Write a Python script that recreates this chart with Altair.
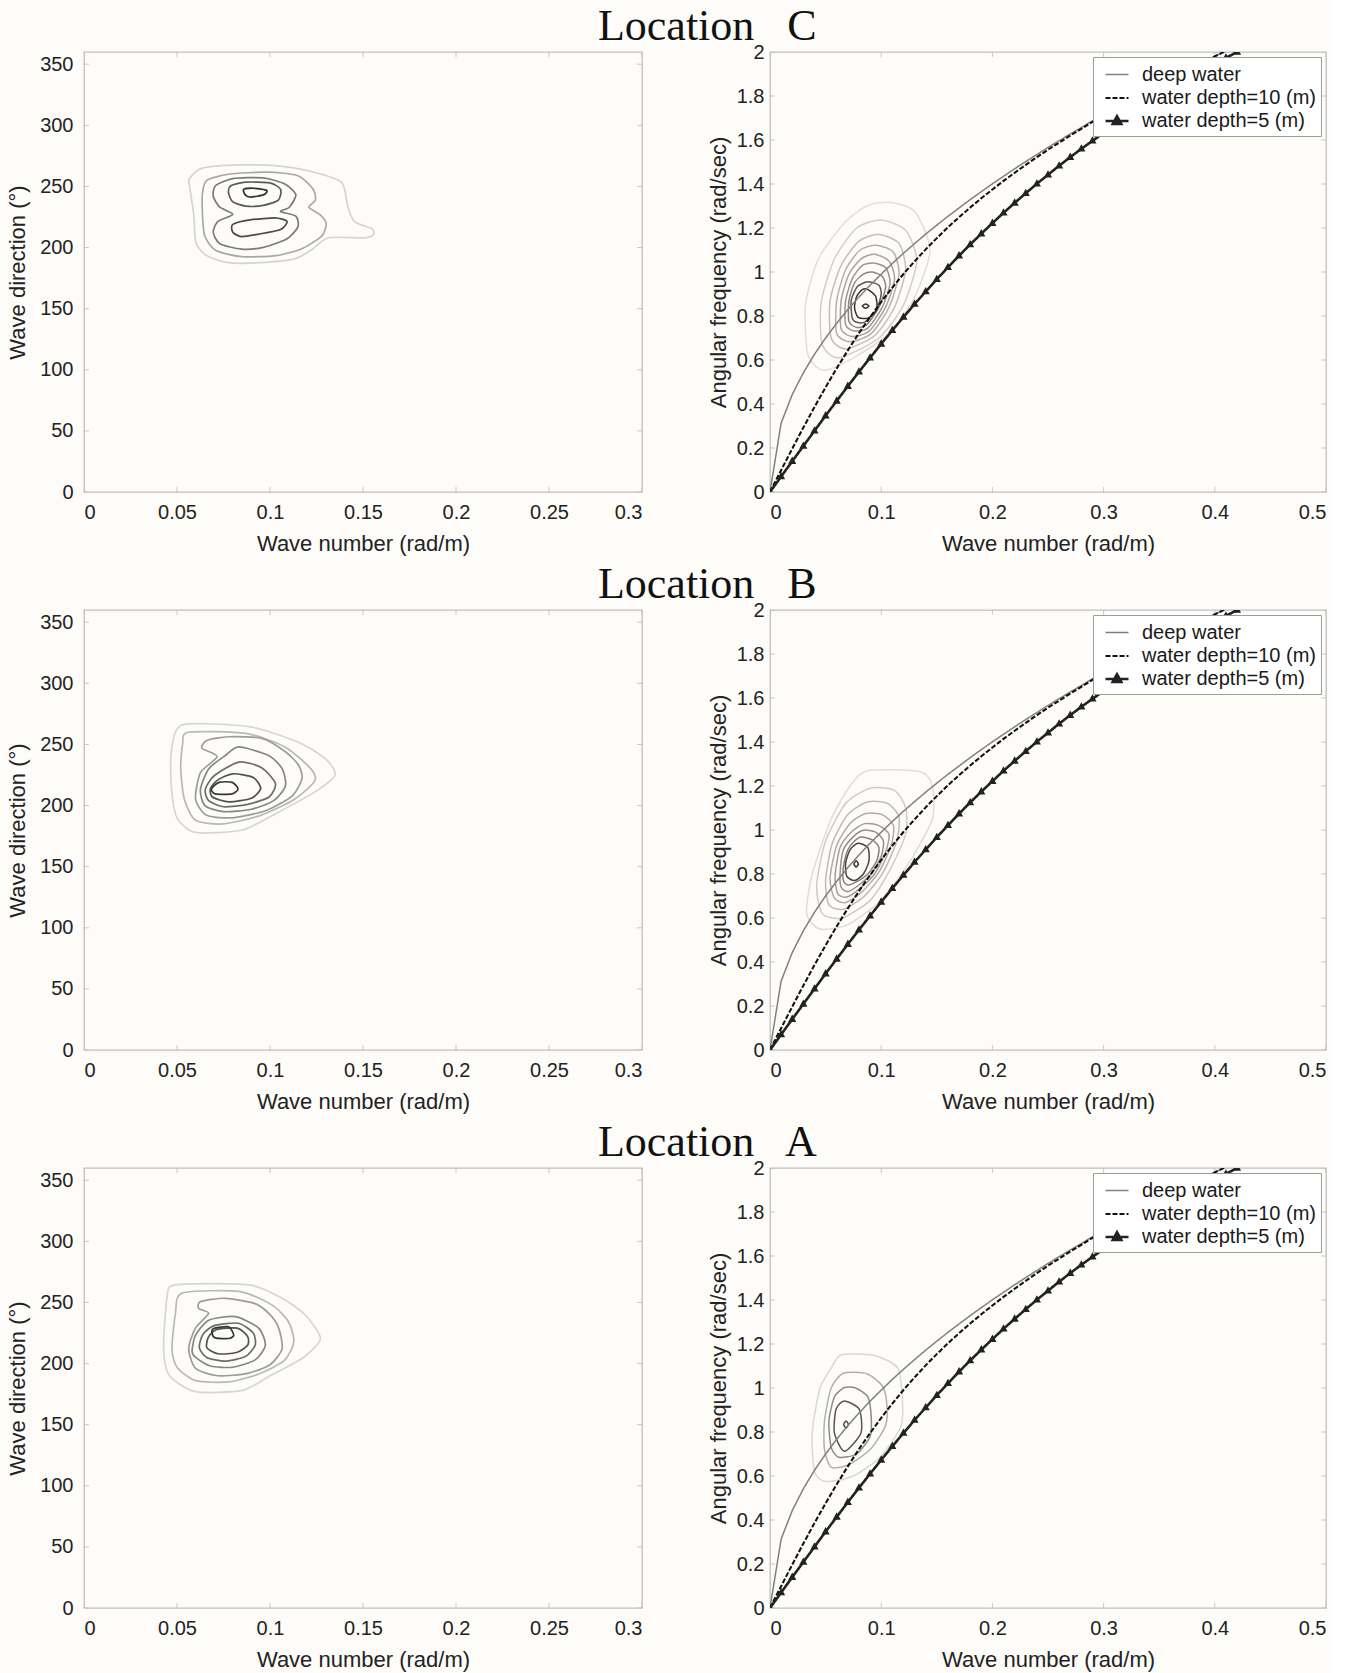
import altair as alt
import pandas as pd

# ---------------- data ----------------
K = [0, 0.01, 0.02, 0.03, 0.04, 0.05, 0.06, 0.07, 0.08, 0.09, 0.10,
     0.11, 0.12, 0.13, 0.14, 0.15, 0.16, 0.17, 0.18, 0.19, 0.20,
     0.21, 0.22, 0.23, 0.24, 0.25, 0.26, 0.27, 0.28, 0.29, 0.30,
     0.31, 0.32, 0.33, 0.34, 0.35, 0.36, 0.37, 0.38, 0.39, 0.40, 0.41, 0.42]
DEEP = [0, 0.313, 0.443, 0.542, 0.626, 0.700, 0.767, 0.829, 0.886, 0.940, 0.990,
        1.039, 1.085, 1.129, 1.172, 1.213, 1.253, 1.291, 1.329, 1.365, 1.401,
        1.435, 1.469, 1.502, 1.534, 1.566, 1.597, 1.627, 1.657, 1.687, 1.715,
        1.744, 1.772, 1.799, 1.826, 1.853, 1.879, 1.905, 1.931, 1.956, 1.981, 2.005, 2.030]
D10 = [0, 0.099, 0.197, 0.293, 0.386, 0.476, 0.562, 0.644, 0.722, 0.795, 0.864,
       0.929, 0.991, 1.048, 1.103, 1.154, 1.203, 1.249, 1.293, 1.335, 1.375,
       1.414, 1.451, 1.487, 1.522, 1.556, 1.588, 1.620, 1.651, 1.682, 1.711,
       1.740, 1.769, 1.797, 1.824, 1.851, 1.878, 1.904, 1.930, 1.955, 1.980, 2.005, 2.029]
D5 = [0, 0.070, 0.140, 0.209, 0.278, 0.347, 0.414, 0.481, 0.546, 0.610, 0.673,
      0.735, 0.795, 0.854, 0.911, 0.967, 1.021, 1.074, 1.125, 1.174, 1.222,
      1.269, 1.314, 1.358, 1.401, 1.442, 1.483, 1.522, 1.560, 1.596, 1.632,
      1.667, 1.701, 1.734, 1.766, 1.798, 1.829, 1.859, 1.888, 1.917, 1.945, 1.973, 2.000]
SERIES = ["deep water", "water depth=10 (m)", "water depth=5 (m)"]

TITLES = ["Location\u00a0\u00a0 C", "Location\u00a0\u00a0 B", "Location\u00a0\u00a0 A"]
LEFT_X_TICKS = [0, 0.05, 0.1, 0.15, 0.2, 0.25, 0.3]
LEFT_Y_TICKS = [0, 50, 100, 150, 200, 250, 300, 350]
RIGHT_X_TICKS = [0, 0.1, 0.2, 0.3, 0.4, 0.5]
RIGHT_Y_TICKS = [0, 0.2, 0.4, 0.6, 0.8, 1, 1.2, 1.4, 1.6, 1.8, 2]

# contour lines (wave number, wave direction) — outermost first
C_LEFT = [
    [(0.0567, 256.5), (0.0637, 265), (0.0847, 267.6), (0.1057, 266.7), (0.122, 262.3), (0.1384, 253.5),
     (0.1419, 233), (0.1454, 221.3), (0.1547, 215.4), (0.1559, 211), (0.1512, 208), (0.1314, 208),
     (0.122, 197.8), (0.1127, 190.5), (0.094, 187.6), (0.0777, 187.6), (0.066, 193.4), (0.0602, 203.7),
     (0.059, 227), (0.0567, 250.6)],
    [(0.0637, 244.7), (0.066, 255), (0.0777, 260), (0.0987, 261.7), (0.115, 258.8), (0.1232, 247.7),
     (0.1244, 238.9), (0.1209, 233), (0.1267, 227.1), (0.1302, 219.8), (0.1279, 209.6), (0.1174, 199.3),
     (0.1034, 193.4), (0.0847, 192.6), (0.0707, 197.8), (0.0649, 209.6), (0.0637, 227.1)],
    [(0.0695, 241.8), (0.0707, 250.6), (0.08, 256.4), (0.0964, 257), (0.108, 252), (0.1139, 243.3),
     (0.1104, 233), (0.1057, 229.5), (0.1139, 225.7), (0.115, 216.9), (0.1092, 207.2), (0.0964, 200.2),
     (0.0847, 198.7), (0.073, 203.1), (0.0695, 212.5), (0.0719, 221.3), (0.08, 227.1), (0.073, 233)],
    [(0.0777, 244.7), (0.0789, 250.6), (0.087, 253.5), (0.0999, 252.9), (0.1057, 247.7), (0.1045, 238.9),
     (0.0964, 234.5), (0.087, 233.9), (0.08, 237.4)],
    [(0.0859, 247.7), (0.0917, 248.5), (0.0982, 246.8), (0.0968, 243.3), (0.0894, 241.2), (0.0866, 243.3)],
    [(0.08, 212.5), (0.08, 219), (0.0894, 222.7), (0.1034, 224.2), (0.1092, 221.3), (0.1057, 214.8),
     (0.094, 211), (0.0847, 209)],
]
B_LEFT = [
    [(0.053, 266), (0.089, 264.5), (0.115, 252), (0.13, 238), (0.135, 225), (0.125, 212), (0.105, 195),
     (0.085, 180), (0.06, 178), (0.05, 190), (0.047, 215), (0.047, 245)],
    [(0.056, 260), (0.087, 259), (0.108, 248), (0.122, 230), (0.124, 220), (0.113, 205), (0.095, 192),
     (0.075, 185), (0.06, 188), (0.054, 205), (0.052, 230), (0.053, 250)],
    [(0.0663, 253.5), (0.0778, 256.3), (0.0957, 255), (0.1083, 244), (0.1154, 233), (0.1172, 222),
     (0.112, 208), (0.098, 196), (0.08, 190), (0.066, 192), (0.06, 205), (0.0626, 227), (0.0716, 240),
     (0.0634, 247)],
    [(0.0832, 248), (0.0993, 241), (0.1066, 230), (0.1083, 216), (0.102, 204), (0.09, 197), (0.075, 195),
     (0.065, 200), (0.0626, 213), (0.067, 230), (0.076, 241)],
    [(0.0832, 235.6), (0.0955, 231), (0.1029, 218), (0.0995, 207), (0.088, 201), (0.075, 199), (0.067, 204),
     (0.0652, 213), (0.0697, 224)],
    [(0.08, 226), (0.091, 223), (0.095, 214), (0.09, 206), (0.078, 203), (0.069, 207), (0.068, 214), (0.072, 221)],
    [(0.0726, 219), (0.0797, 219), (0.0828, 213.6), (0.0797, 209.5), (0.0706, 209.5), (0.0685, 213.6)],
]
A_LEFT = [
    [(0.0491, 264.4), (0.0886, 264.4), (0.1065, 253.4), (0.119, 239.7), (0.1271, 220.5), (0.118, 205),
     (0.10, 190), (0.085, 178), (0.06, 177), (0.046, 190), (0.0428, 212), (0.0446, 253.4)],
    [(0.0527, 257.6), (0.0832, 259), (0.101, 248), (0.110, 234), (0.1128, 218), (0.108, 203), (0.095, 192),
     (0.078, 185), (0.06, 186), (0.05, 197), (0.0473, 212), (0.0491, 240)],
    [(0.0626, 250.7), (0.076, 253.4), (0.092, 249), (0.1, 240), (0.1047, 229), (0.1065, 212), (0.1, 199),
     (0.088, 192), (0.072, 190), (0.06, 196), (0.0563, 212), (0.0599, 229), (0.067, 241), (0.0617, 245)],
    [(0.0671, 235.5), (0.0814, 238.4), (0.0939, 229), (0.0975, 215), (0.092, 203), (0.08, 197), (0.068, 198),
     (0.06, 205), (0.0581, 210), (0.0599, 223)],
    [(0.07, 231), (0.083, 233), (0.091, 225), (0.092, 215), (0.087, 206), (0.076, 202), (0.066, 205),
     (0.062, 213), (0.064, 224)],
    [(0.0715, 228), (0.0825, 229), (0.088, 222), (0.088, 215), (0.082, 209), (0.072, 208), (0.066, 213), (0.067, 222)],
    [(0.0697, 228.7), (0.0778, 230), (0.0805, 223.2), (0.0778, 220.5), (0.0706, 221), (0.0688, 225)],
]

# contour lines (wave number, angular frequency) — outermost first
C_RIGHT = [
    [(0.107, 1.317), (0.130, 1.276), (0.144, 1.10), (0.130, 0.886), (0.107, 0.72), (0.075, 0.61),
     (0.048, 0.553), (0.034, 0.626), (0.032, 0.854), (0.044, 1.065), (0.068, 1.228), (0.087, 1.30)],
    [(0.100, 1.236), (0.122, 1.19), (0.132, 1.05), (0.120, 0.85), (0.098, 0.70), (0.062, 0.61),
     (0.047, 0.67), (0.046, 0.86), (0.058, 1.06), (0.078, 1.20)],
    [(0.098, 1.171), (0.116, 1.13), (0.122, 1.01), (0.112, 0.84), (0.094, 0.71), (0.068, 0.65),
     (0.055, 0.70), (0.054, 0.87), (0.064, 1.03), (0.080, 1.14)],
    [(0.096, 1.122), (0.111, 1.09), (0.116, 0.99), (0.107, 0.84), (0.091, 0.72), (0.072, 0.683),
     (0.060, 0.72), (0.060, 0.87), (0.068, 1.01), (0.081, 1.10)],
    [(0.094, 1.081), (0.107, 1.05), (0.112, 0.97), (0.104, 0.84), (0.089, 0.73), (0.074, 0.707),
     (0.064, 0.74), (0.064, 0.87), (0.071, 0.99), (0.082, 1.06)],
    [(0.093, 1.041), (0.104, 1.02), (0.108, 0.95), (0.101, 0.84), (0.088, 0.745), (0.076, 0.732),
     (0.068, 0.76), (0.068, 0.87), (0.074, 0.97), (0.083, 1.03)],
    [(0.092, 1.0), (0.101, 0.98), (0.104, 0.93), (0.098, 0.84), (0.087, 0.76), (0.078, 0.748),
     (0.071, 0.775), (0.071, 0.87), (0.076, 0.95), (0.084, 0.99)],
    [(0.090, 0.955), (0.098, 0.94), (0.100, 0.90), (0.096, 0.83), (0.086, 0.775), (0.079, 0.77),
     (0.074, 0.79), (0.073, 0.87), (0.078, 0.93), (0.084, 0.95)],
    [(0.088, 0.92), (0.095, 0.89), (0.096, 0.83), (0.088, 0.79), (0.079, 0.795), (0.076, 0.84),
     (0.078, 0.89), (0.083, 0.92)],
    [(0.086, 0.855), (0.089, 0.845), (0.086, 0.835), (0.083, 0.845)],
]
B_RIGHT = [
    [(0.088, 1.27), (0.135, 1.265), (0.146, 1.2), (0.146, 1.05), (0.125, 0.85), (0.10, 0.68), (0.07, 0.57),
     (0.045, 0.55), (0.033, 0.62), (0.038, 0.80), (0.055, 1.05), (0.072, 1.2)],
    [(0.09, 1.19), (0.112, 1.18), (0.122, 1.10), (0.122, 0.98), (0.108, 0.82), (0.09, 0.68), (0.065, 0.60),
     (0.047, 0.62), (0.042, 0.75), (0.05, 0.95), (0.068, 1.12)],
    [(0.088, 1.128), (0.106, 1.12), (0.116, 1.06), (0.114, 0.95), (0.102, 0.81), (0.085, 0.70), (0.066, 0.64),
     (0.053, 0.66), (0.05, 0.77), (0.056, 0.94), (0.07, 1.07)],
    [(0.086, 1.075), (0.101, 1.07), (0.111, 1.02), (0.109, 0.93), (0.098, 0.81), (0.083, 0.72), (0.068, 0.67),
     (0.058, 0.69), (0.054, 0.78), (0.06, 0.93), (0.072, 1.03)],
    [(0.085, 1.029), (0.098, 1.02), (0.107, 0.98), (0.104, 0.90), (0.094, 0.80), (0.081, 0.735),
     (0.069, 0.695), (0.061, 0.71), (0.0585, 0.79), (0.063, 0.92), (0.073, 0.99)],
    [(0.084, 0.999), (0.095, 0.99), (0.102, 0.95), (0.1, 0.88), (0.091, 0.80), (0.08, 0.75), (0.07, 0.72),
     (0.064, 0.74), (0.063, 0.80), (0.066, 0.91), (0.075, 0.97)],
    [(0.082, 0.968), (0.092, 0.955), (0.098, 0.92), (0.096, 0.86), (0.088, 0.80), (0.078, 0.765),
     (0.07, 0.75), (0.066, 0.77), (0.066, 0.83), (0.07, 0.91), (0.076, 0.95)],
    [(0.079, 0.94), (0.088, 0.92), (0.089, 0.86), (0.084, 0.80), (0.076, 0.77), (0.069, 0.79),
     (0.068, 0.85), (0.072, 0.91)],
    [(0.0775, 0.86), (0.0795, 0.846), (0.0775, 0.832), (0.0755, 0.846)],
]
A_RIGHT = [
    [(0.064, 1.15), (0.094, 1.148), (0.115, 1.09), (0.119, 0.95), (0.118, 0.83), (0.10, 0.69), (0.075, 0.60),
     (0.05, 0.575), (0.040, 0.62), (0.038, 0.80), (0.045, 1.0), (0.055, 1.09)],
    [(0.066, 1.067), (0.087, 1.065), (0.101, 1.009), (0.105, 0.93), (0.104, 0.83), (0.09, 0.72), (0.07, 0.65),
     (0.055, 0.64), (0.049, 0.72), (0.049, 0.85), (0.055, 1.0)],
    [(0.067, 1.002), (0.077, 1.0), (0.088, 0.96), (0.091, 0.87), (0.09, 0.78), (0.078, 0.70), (0.062, 0.685),
     (0.055, 0.73), (0.053, 0.85), (0.058, 0.96)],
    [(0.0669, 0.941), (0.0803, 0.903), (0.0818, 0.796), (0.0669, 0.712), (0.0579, 0.796), (0.0594, 0.903)],
    [(0.0684, 0.85), (0.0705, 0.834), (0.0684, 0.818), (0.0663, 0.834)],
]

# ---------------- styling ----------------
LEFT_COLORS_6 = ["#d4d4d4", "#a8a8a8", "#7a7a7a", "#5a5a5a", "#333333", "#4a4a4a"]
LEFT_COLORS_7 = ["#d6d6d6", "#b8b8b8", "#9c9c9c", "#868686", "#6c6c6c", "#525252", "#363636"]
RIGHT_COLORS_C = ["#e2dede", "#d2cdcd", "#c3bebe", "#b5b0b0", "#a8a3a3", "#9a9595", "#8a8585",
                  "#5a5656", "#333333", "#333333"]
RIGHT_COLORS_B = ["#e0dcdc", "#cfcaca", "#bfbaba", "#b0abab", "#a29d9d", "#948f8f", "#858080",
                  "#444444", "#333333"]
RIGHT_COLORS_A = ["#d8d8d8", "#b0b0b0", "#8a8a8a", "#555555", "#444444"]
SERIES_COLORS = ["#808080", "#111111", "#222222"]
TICK_COLOR = "#b4b4b4"

FONT = "Liberation Sans"
LEFT_W, RIGHT_W, PLOT_H = 558, 556, 440
TRI_PATH = "M-1,0L1,0M0,-0.42L0.37,0.25L-0.37,0.25Z"
INDEP = dict(color="independent", strokeDash="independent", shape="independent",
             stroke="independent", strokeWidth="independent")


def contour_frame(contours):
    rows = []
    for lev, pts in enumerate(contours):
        for i, (x, y) in enumerate(pts):
            rows.append({"level": lev, "i": i, "x": x, "y": y})
    return pd.DataFrame(rows)


def inner_ticks(xdef, ydef, xticks, yticks, width):
    """MATLAB-style short ticks pointing into the plot frame on all four sides."""
    xdf = pd.DataFrame({"x": xticks})
    ydf = pd.DataFrame({"y": yticks})
    layers = []
    for pos in (PLOT_H, 0):
        layers.append(alt.Chart(xdf).mark_tick(orient="vertical", size=10, thickness=1,
                                               color=TICK_COLOR, clip=True)
                      .encode(x=xdef(), y=alt.value(pos)))
    for pos in (0, width):
        layers.append(alt.Chart(ydf).mark_tick(orient="horizontal", size=10, thickness=1,
                                               color=TICK_COLOR, clip=True)
                      .encode(y=ydef(), x=alt.value(pos)))
    return layers


def lx():
    return alt.X("x:Q", scale=alt.Scale(domain=[0, 0.3], nice=False, zero=False),
                 axis=alt.Axis(values=LEFT_X_TICKS, format="~g", title="Wave number (rad/m)",
                               labelPadding=10, titlePadding=11))


def ly():
    return alt.Y("y:Q", scale=alt.Scale(domain=[0, 360], nice=False, zero=False),
                 axis=alt.Axis(values=LEFT_Y_TICKS, format="d", title="Wave direction (°)",
                               labelPadding=11, titlePadding=10))


def left_chart(contours, colors):
    df = contour_frame(contours)
    cont = alt.Chart(df).mark_line(interpolate="cardinal-closed", tension=0.3, strokeWidth=1.7).encode(
        x=lx(), y=ly(),
        detail="level:N",
        order="i:Q",
        stroke=alt.Stroke("level:O", scale=alt.Scale(domain=list(range(len(colors))), range=colors),
                          legend=None),
    )
    return alt.layer(cont, *inner_ticks(lx, ly, LEFT_X_TICKS, LEFT_Y_TICKS, LEFT_W)).properties(
        width=LEFT_W, height=PLOT_H)


curve_rows = []
for name, vals in zip(SERIES, [DEEP, D10, D5]):
    for k, w in zip(K, vals):
        curve_rows.append({"series": name, "x": k, "y": w})
CURVES = pd.DataFrame(curve_rows)
TRI = pd.DataFrame({"x": K, "y": D5, "series": [SERIES[2]] * len(K)})

LEG = alt.Legend(
    title=None, orient="top-right", offset=5, fillColor="#ffffff", strokeColor="#9c9c9c",
    padding=5, labelFont=FONT, labelFontSize=20, labelColor="#1a1a1a", labelOffset=12, labelLimit=400,
    symbolSize=529, symbolOffset=6, symbolStrokeWidth=2, rowPadding=0, zindex=1,
)


def rx():
    return alt.X("x:Q", scale=alt.Scale(domain=[0, 0.5], nice=False, zero=False),
                 axis=alt.Axis(values=RIGHT_X_TICKS, format="~g", title="Wave number (rad/m)",
                               labelPadding=10, titlePadding=11))


def ry():
    return alt.Y("y:Q", scale=alt.Scale(domain=[0, 2], nice=False, zero=False),
                 axis=alt.Axis(values=RIGHT_Y_TICKS, format="~g", title="Angular frequency (rad/sec)",
                               labelPadding=6, titlePadding=6))


def series_color():
    return alt.Color("series:N", scale=alt.Scale(domain=SERIES, range=SERIES_COLORS), legend=LEG)


def right_chart(contours, colors):
    df = contour_frame(contours)
    cont = alt.Chart(df).mark_line(interpolate="cardinal-closed", tension=0.3, strokeWidth=1.5).encode(
        x=rx(), y=ry(), detail="level:N", order="i:Q",
        stroke=alt.Stroke("level:O", scale=alt.Scale(domain=list(range(len(colors))), range=colors),
                          legend=None),
    )
    lines = alt.Chart(CURVES).mark_line(clip=True).encode(
        x=rx(), y=ry(),
        color=series_color(),
        strokeDash=alt.StrokeDash("series:N", scale=alt.Scale(domain=SERIES, range=[[1, 0], [5, 2], [1, 0]]),
                                  legend=LEG),
        strokeWidth=alt.StrokeWidth("series:N", scale=alt.Scale(domain=SERIES, range=[1.5, 2.6, 2.0]),
                                    legend=None),
    )
    pts = alt.Chart(TRI).mark_point(filled=True, size=480, opacity=1, strokeWidth=0, clip=True).encode(
        x=rx(), y=ry(),
        color=series_color(),
        shape=alt.Shape("series:N", scale=alt.Scale(domain=SERIES, range=["stroke", "stroke", TRI_PATH]),
                        legend=LEG),
    )
    ticks = inner_ticks(rx, ry, RIGHT_X_TICKS, RIGHT_Y_TICKS, RIGHT_W)
    return alt.layer(*ticks, cont, lines, pts).properties(width=RIGHT_W, height=PLOT_H)


def row(title, left, right):
    return alt.hconcat(
        left, right, spacing=63,
        title=alt.TitleParams(title, font="Liberation Serif", fontSize=44, fontWeight="normal",
                              color="#111111", anchor="middle", dx=41, offset=-8),
    ).resolve_scale(**INDEP).resolve_legend(**INDEP)


rows = [
    row(TITLES[0], left_chart(C_LEFT, LEFT_COLORS_6), right_chart(C_RIGHT, RIGHT_COLORS_C)),
    row(TITLES[1], left_chart(B_LEFT, LEFT_COLORS_7), right_chart(B_RIGHT, RIGHT_COLORS_B)),
    row(TITLES[2], left_chart(A_LEFT, LEFT_COLORS_7), right_chart(A_RIGHT, RIGHT_COLORS_A)),
]

chart = alt.vconcat(*rows, spacing=8).resolve_scale(**INDEP).resolve_legend(**INDEP).configure(
    background="#fdfcf9", padding=5
).configure_view(
    stroke="#c0c0c0", strokeWidth=1.3
).configure_axis(
    domain=False, ticks=False, tickSize=0, grid=False,
    labelFont=FONT, labelFontSize=20, labelColor="#222222",
    titleFont=FONT, titleFontSize=22, titleFontWeight="normal", titleColor="#222222",
)

chart.save("out.html", embed_options={"renderer": "svg", "actions": False})
